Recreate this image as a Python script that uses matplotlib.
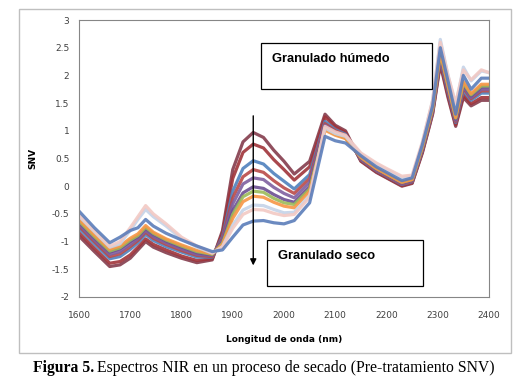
import matplotlib.pyplot as plt
from matplotlib.patches import Rectangle

# wavelength grid (nm)
wl = [1600, 1630, 1660, 1680, 1700, 1715, 1730, 1745, 1770, 1800, 1830, 1860, 1880, 1900, 1920,
      1940, 1960, 1980, 2000, 2020, 2050, 2080, 2100, 2120, 2150, 2180, 2200, 2230, 2250, 2270,
      2290, 2305, 2320, 2335, 2350, 2365, 2385, 2400]

# spectra, from wet (top at 1940) to dry (bottom at 1940)
s_wet = [-0.90, -1.18, -1.45, -1.42, -1.30, -1.15, -1.00, -1.10, -1.20, -1.30, -1.38, -1.33, -0.80, 0.30, 0.80,
         0.97, 0.88, 0.65, 0.45, 0.22, 0.45, 1.30, 1.10, 1.00, 0.45, 0.25, 0.15, 0.00, 0.05, 0.60,
         1.30, 2.20, 1.60, 1.08, 1.60, 1.45, 1.55, 1.55]
s_02 = [-0.84, -1.12, -1.39, -1.36, -1.24, -1.10, -0.95, -1.05, -1.15, -1.26, -1.34, -1.31, -0.85, 0.14, 0.61,
        0.76, 0.69, 0.48, 0.30, 0.11, 0.35, 1.25, 1.07, 0.97, 0.46, 0.26, 0.16, 0.01, 0.06, 0.62,
        1.32, 2.24, 1.64, 1.11, 1.65, 1.49, 1.60, 1.60]
s_03 = [-0.76, -1.04, -1.31, -1.27, -1.14, -1.02, -0.87, -0.98, -1.09, -1.19, -1.28, -1.28, -0.91, -0.09, 0.32,
        0.46, 0.40, 0.23, 0.09, -0.05, 0.21, 1.17, 1.02, 0.94, 0.48, 0.28, 0.18, 0.03, 0.08, 0.65,
        1.35, 2.30, 1.70, 1.15, 1.73, 1.55, 1.68, 1.68]
s_04 = [-0.72, -1.00, -1.27, -1.22, -1.09, -0.98, -0.83, -0.94, -1.05, -1.16, -1.25, -1.27, -0.95, -0.21, 0.17,
        0.30, 0.25, 0.10, -0.03, -0.13, 0.14, 1.13, 1.00, 0.92, 0.49, 0.29, 0.19, 0.04, 0.09, 0.66,
        1.36, 2.33, 1.73, 1.17, 1.77, 1.58, 1.72, 1.72]
s_05 = [-0.69, -0.97, -1.23, -1.18, -1.05, -0.95, -0.80, -0.91, -1.02, -1.13, -1.23, -1.25, -0.98, -0.32, 0.04,
        0.15, 0.12, -0.02, -0.13, -0.21, 0.07, 1.10, 0.97, 0.90, 0.50, 0.30, 0.20, 0.05, 0.10, 0.68,
        1.38, 2.35, 1.75, 1.19, 1.80, 1.60, 1.75, 1.75]
s_06 = [-0.65, -0.93, -1.19, -1.13, -1.00, -0.91, -0.76, -0.87, -0.99, -1.10, -1.20, -1.24, -1.01, -0.44, -0.12,
        -0.01, -0.04, -0.15, -0.24, -0.29, -0.01, 1.06, 0.95, 0.88, 0.51, 0.31, 0.21, 0.06, 0.11, 0.69,
        1.39, 2.38, 1.78, 1.21, 1.84, 1.63, 1.79, 1.79]
s_07 = [-0.63, -0.91, -1.17, -1.11, -0.97, -0.89, -0.74, -0.85, -0.97, -1.08, -1.18, -1.23, -1.03, -0.51, -0.19,
        -0.09, -0.11, -0.22, -0.30, -0.33, -0.05, 1.04, 0.94, 0.87, 0.52, 0.32, 0.22, 0.07, 0.12, 0.70,
        1.40, 2.40, 1.80, 1.23, 1.86, 1.65, 1.81, 1.81]
s_08 = [-0.60, -0.88, -1.14, -1.08, -0.94, -0.86, -0.71, -0.83, -0.95, -1.06, -1.16, -1.22, -1.05, -0.58, -0.28,
        -0.18, -0.20, -0.29, -0.36, -0.39, -0.09, 1.01, 0.92, 0.86, 0.52, 0.32, 0.22, 0.07, 0.12, 0.71,
        1.41, 2.42, 1.82, 1.24, 1.89, 1.67, 1.84, 1.84]
s_09 = [-0.54, -0.82, -1.10, -1.04, -0.80, -0.60, -0.42, -0.55, -0.72, -0.95, -1.10, -1.21, -1.09, -0.70, -0.43,
        -0.34, -0.35, -0.42, -0.48, -0.47, -0.17, 1.05, 0.95, 0.90, 0.58, 0.40, 0.30, 0.15, 0.18, 0.78,
        1.55, 2.65, 2.00, 1.45, 2.15, 1.90, 2.08, 2.05]
s_10 = [-0.52, -0.80, -1.08, -1.00, -0.75, -0.55, -0.35, -0.50, -0.68, -0.92, -1.08, -1.20, -1.10, -0.76, -0.51,
        -0.42, -0.43, -0.49, -0.53, -0.51, -0.20, 1.08, 0.98, 0.92, 0.60, 0.42, 0.32, 0.18, 0.20, 0.80,
        1.55, 2.60, 2.00, 1.50, 2.10, 1.92, 2.10, 2.05]
s_dry = [-0.45, -0.75, -1.02, -0.92, -0.80, -0.75, -0.60, -0.72, -0.85, -0.97, -1.08, -1.18, -1.15, -0.92, -0.70,
         -0.63, -0.62, -0.66, -0.68, -0.62, -0.30, 0.90, 0.82, 0.78, 0.55, 0.35, 0.25, 0.10, 0.15, 0.75,
         1.45, 2.50, 1.90, 1.30, 2.00, 1.75, 1.95, 1.95]

spectra = [s_wet, s_02, s_03, s_04, s_05, s_06, s_07, s_08, s_09, s_10, s_dry]
colores = ['#843C4C', '#A0343A', '#4F81BD', '#B94A48', '#7F5FA0', '#6C4F93',
           '#9BBB59', '#F79646', '#C5D3E8', '#F2C9C4', '#5B7DBA']

xticks = [1600, 1700, 1800, 1900, 2000, 2100, 2200, 2300, 2400]
yticks = [-2, -1.5, -1, -0.5, 0, 0.5, 1, 1.5, 2, 2.5, 3]
ytick_labels = ['-2', '-1.5', '-1', '-0.5', '0', '0.5', '1', '1.5', '2', '2.5', '3']

W, H = 520, 384
fig = plt.figure(figsize=(W / 100, H / 100), dpi=100)

def px(x0, y0, x1, y1):
    # pixel box -> figure fraction rect
    return [x0 / W, 1 - y1 / H, (x1 - x0) / W, (y1 - y0) / H]

# outer chart frame
fr = px(19, 9, 511, 353)
fig.patches.append(Rectangle((fr[0], fr[1]), fr[2], fr[3], transform=fig.transFigure,
                             fill=False, edgecolor='#BFBFBF', linewidth=1.0))

ax = fig.add_axes(px(79, 20, 489, 297))
for s, c in zip(spectra, colores):
    ax.plot(wl, s, color=c, linewidth=2.3, alpha=0.9, solid_joinstyle='round')

ax.set_xlim(1600, 2400)
ax.set_ylim(-2, 3)
ax.set_xticks(xticks)
ax.set_yticks(yticks)
ax.set_yticklabels(ytick_labels)
ax.tick_params(length=0, labelsize=6.5, colors='#404040')
ax.tick_params(axis='x', pad=10)
ax.tick_params(axis='y', pad=7)
for sp in ax.spines.values():
    sp.set_color('#868686')
    sp.set_linewidth(0.8)
ax.set_ylabel('SNV', fontsize=6.5, fontweight='bold', labelpad=10)
ax.set_xlabel('Longitud de onda (nm)', fontsize=6.5, fontweight='bold', labelpad=11)

# arrow wet -> dry
ax.annotate('', xy=(1940, -1.48), xytext=(1940, 1.32),
            arrowprops=dict(arrowstyle='-|>', color='black', linewidth=1.0, mutation_scale=9))

# text boxes
for (x0, y0, x1, y1), txt in [((261, 43, 432, 89), 'Granulado húmedo'),
                              ((267, 240, 423, 286), 'Granulado seco')]:
    r = px(x0, y0, x1, y1)
    fig.patches.append(Rectangle((r[0], r[1]), r[2], r[3], transform=fig.transFigure,
                                 facecolor='white', edgecolor='black', linewidth=0.9))
    fig.text((x0 + 11) / W, 1 - (y0 + 16) / H, txt, fontsize=9.3, fontweight='bold',
             family='Liberation Sans', va='center', ha='left')

cap_y = 1 - 368 / H
t1 = fig.text(33 / W, cap_y, 'Figura 5.', family='Liberation Serif', fontweight='bold',
              fontsize=11.3, va='center', ha='left')
fig.canvas.draw()
bb = t1.get_window_extent()
fig.text((bb.x1 + 3) / W, cap_y, 'Espectros NIR en un proceso de secado (Pre-tratamiento SNV)',
         family='Liberation Serif', fontsize=11.3, va='center', ha='left')

fig.savefig('out.png', dpi=100)
